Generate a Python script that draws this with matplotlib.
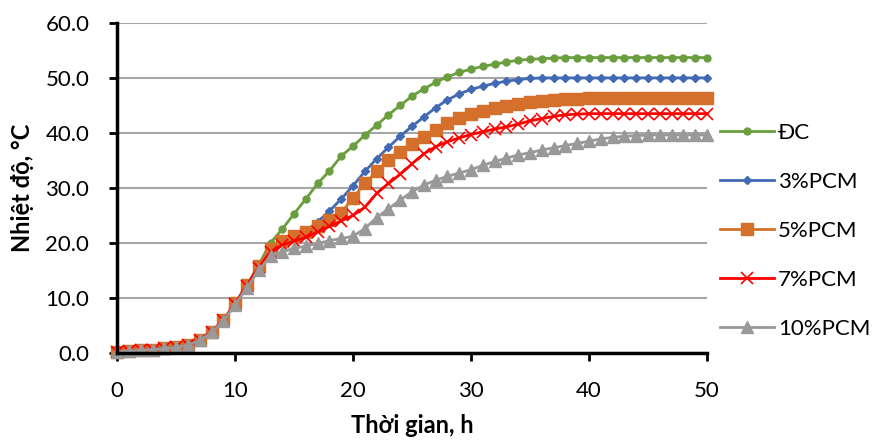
import numpy as np
import matplotlib
matplotlib.use('Agg')
import matplotlib.pyplot as plt

plt.rcParams['font.family'] = ['Lato', 'DejaVu Sans']

# time in hours
hours = list(range(0, 51))

dc = [0.2, 0.3, 0.5, 0.6, 0.8, 1.0, 1.4, 2.4, 3.8, 5.9, 9.0, 12.3, 16.0,
      20.0, 22.5, 25.3, 28.0, 30.8, 33.1, 35.8, 37.6, 39.6, 41.4, 43.3, 45.0,
      46.7, 48.0, 49.2, 50.2, 51.0, 51.6, 52.1, 52.5, 52.9, 53.2, 53.4, 53.5,
      53.6] + [53.7] * 13
pcm3 = [0.2, 0.3, 0.5, 0.6, 0.8, 1.0, 1.4, 2.4, 3.8, 5.9, 8.9, 12.2, 15.6,
        18.8, 20.2, 21.2, 22.2, 23.8, 25.8, 28.0, 30.4, 33.0, 35.3, 37.4, 39.4,
        41.2, 42.9, 44.6, 46.0, 47.1, 47.9, 48.5, 49.0, 49.4, 49.7, 49.9] + [50.0] * 15
pcm5 = [0.2, 0.3, 0.5, 0.6, 0.8, 1.0, 1.4, 2.4, 3.8, 5.9, 9.0, 12.3, 15.8,
        18.9, 20.3, 21.2, 22.0, 23.0, 24.2, 25.5, 28.2, 30.8, 33.0, 35.0, 36.6,
        38.0, 39.3, 40.6, 41.8, 42.7, 43.4, 44.0, 44.5, 44.9, 45.3, 45.6, 45.8,
        46.0, 46.1, 46.2] + [46.3] * 11
pcm7 = [0.2, 0.3, 0.5, 0.6, 0.8, 1.0, 1.4, 2.4, 3.8, 5.9, 8.9, 12.2, 15.5,
        18.3, 19.6, 20.3, 21.0, 22.0, 23.0, 24.0, 25.0, 26.5, 29.0, 30.8, 32.5,
        34.4, 36.2, 37.5, 38.4, 39.1, 39.7, 40.2, 40.7, 41.1, 41.6, 42.2, 42.6,
        43.0, 43.3, 43.4] + [43.5] * 11
pcm10 = [0.2, 0.3, 0.5, 0.6, 0.8, 1.0, 1.4, 2.3, 3.7, 5.8, 8.7, 11.8, 15.0,
         17.6, 18.4, 19.0, 19.4, 19.9, 20.4, 20.8, 21.2, 22.6, 24.6, 26.2, 27.8,
         29.3, 30.5, 31.4, 32.1, 32.7, 33.3, 34.1, 34.8, 35.4, 36.0, 36.4, 36.9,
         37.3, 37.7, 38.1, 38.5, 38.9, 39.2, 39.4, 39.5] + [39.6] * 6

fig = plt.figure(figsize=(8.74, 4.41), dpi=100)
ax = fig.add_axes([0.134, 0.2, 0.675, 0.748])

ax.plot(hours, dc, color='#6A9E3F', lw=2, marker='o', ms=5, label='ĐC', clip_on=False)
ax.plot(hours, pcm3, color='#4169B4', lw=2, marker='D', ms=4, label='3%PCM', clip_on=False)
ax.plot(hours, pcm5, color='#D4702B', lw=2, marker='s', ms=9, label='5%PCM', clip_on=False)
ax.plot(hours, pcm7, color='#FF0000', lw=2, marker='x', ms=8, mew=1.2, label='7%PCM', clip_on=False)
ax.plot(hours, pcm10, color='#999999', lw=2, marker='^', ms=8, label='10%PCM', clip_on=False)

ax.set_xlim(0, 50)
ax.set_ylim(0, 60)
ax.set_xticks(range(0, 51, 10))
ax.set_yticks(range(0, 61, 10))
ax.set_yticklabels(['%.1f' % v for v in range(0, 61, 10)])
ax.yaxis.grid(True, color='#A6A6A6', lw=1.5)
ax.set_axisbelow(True)
for s in ['top', 'right']:
    ax.spines[s].set_visible(False)
for s in ['left', 'bottom']:
    ax.spines[s].set_linewidth(2.5)
ax.tick_params(axis='both', direction='out', length=6, width=2, labelsize=16)
ax.tick_params(axis='x', pad=14)
ax.tick_params(axis='y', pad=14)

ax.set_xlabel('Thời gian, h', fontsize=17, fontweight='bold', labelpad=10)
ax.set_ylabel('Nhiệt độ, °C', fontsize=17, fontweight='bold', labelpad=8)

ax.legend(loc='center left', bbox_to_anchor=(1.0, 0.37), frameon=False,
          fontsize=16, handlelength=2.4, labelspacing=1.3, handletextpad=0.2,
          borderaxespad=0.2)

plt.savefig('out.png', dpi=100)
